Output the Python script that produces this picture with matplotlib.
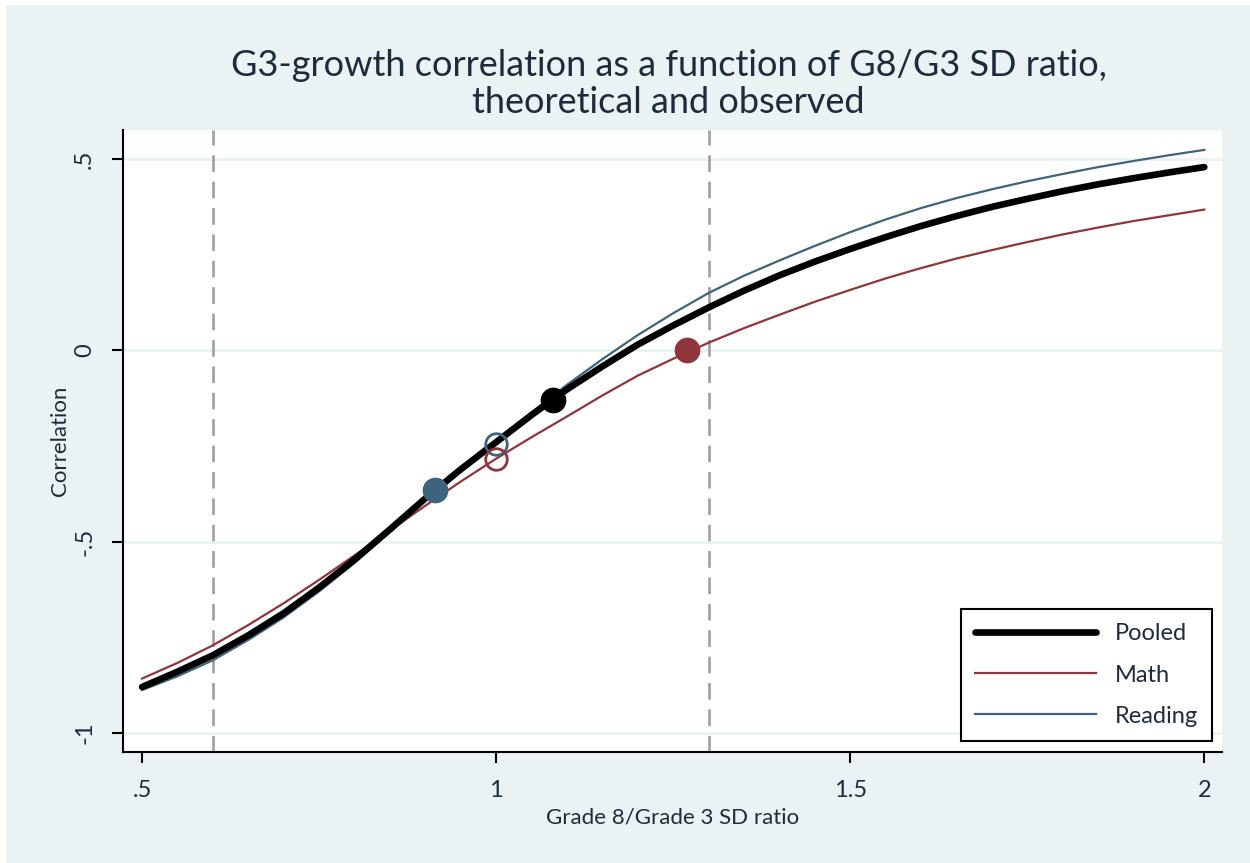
import matplotlib
matplotlib.use("Agg")
import matplotlib.pyplot as plt
from matplotlib.patches import Rectangle

# ratio de SD (grado 8 / grado 3) y correlaciones
ratio = [0.50, 0.55, 0.60, 0.65, 0.70, 0.75, 0.80, 0.85, 0.90, 0.95,
         1.00, 1.05, 1.10, 1.15, 1.20, 1.25, 1.30, 1.35, 1.40, 1.45,
         1.50, 1.55, 1.60, 1.65, 1.70, 1.75, 1.80, 1.85, 1.90, 1.95, 2.00]
pooled = [-0.880, -0.840, -0.797, -0.745, -0.687, -0.620, -0.547, -0.468, -0.387, -0.311,
          -0.240, -0.169, -0.102, -0.042, 0.015, 0.065, 0.112, 0.156, 0.196, 0.232,
          0.265, 0.296, 0.325, 0.351, 0.375, 0.396, 0.416, 0.434, 0.450, 0.465, 0.479]
math_c = [-0.858, -0.817, -0.771, -0.718, -0.661, -0.600, -0.536, -0.471, -0.406, -0.343,
          -0.283, -0.227, -0.173, -0.118, -0.066, -0.022, 0.020, 0.058, 0.093, 0.127,
          0.158, 0.188, 0.215, 0.240, 0.262, 0.283, 0.303, 0.321, 0.338, 0.353, 0.368]
reading = [-0.888, -0.852, -0.810, -0.757, -0.698, -0.630, -0.556, -0.475, -0.392, -0.313,
           -0.238, -0.162, -0.090, -0.023, 0.040, 0.097, 0.150, 0.195, 0.235, 0.273,
           0.309, 0.342, 0.372, 0.398, 0.421, 0.442, 0.461, 0.479, 0.495, 0.510, 0.524]

# puntos observados (rellenos) y teoricos con ratio 1 (huecos)
obs_x = {"Pooled": 1.08, "Math": 1.27, "Reading": 0.913}
obs_y = {"Pooled": -0.131, "Math": 0.0, "Reading": -0.366}
open_x = {"Math": 1.0, "Reading": 1.0}
open_y = {"Math": -0.283, "Reading": -0.244}

vlines = [0.6, 1.3]
xticks = [0.5, 1, 1.5, 2]
xticklabels = [".5", "1", "1.5", "2"]
yticks = [-1, -0.5, 0, 0.5]
yticklabels = ["-1", "-.5", "0", ".5"]

RED = "#90353b"
BLUE = "#3e647d"
BG = "#eaf2f3"
TXT = "#1e2b3c"

plt.rcParams['font.family'] = ['Lato', 'DejaVu Sans']

fig = plt.figure(figsize=(12.5, 8.63), dpi=100, facecolor="white")
fig.patches.append(Rectangle((6 / 1250, 0), 1, 1 - 5 / 863, transform=fig.transFigure,
                             facecolor=BG, edgecolor="none", zorder=-10))

ax = fig.add_axes([123 / 1250, 111 / 863, 1099 / 1250, 622 / 863])
ax.set_facecolor("white")

for y in yticks:
    ax.axhline(y, color=BG, lw=2, zorder=1)
for v in vlines:
    ax.axvline(v, color="#a3a3a3", lw=2, ls=(0, (6, 3.5)), zorder=2)

ax.plot(ratio, math_c, color=RED, lw=1.6, label="Math", zorder=3)
ax.plot(ratio, reading, color=BLUE, lw=1.6, label="Reading", zorder=3)
ax.plot(ratio, pooled, color="black", lw=4.8, label="Pooled", zorder=4,
        solid_capstyle="round")

ax.plot(open_x["Reading"], open_y["Reading"], "o", ms=15.5, mfc="none", mec=BLUE, mew=2, zorder=5)
ax.plot(open_x["Math"], open_y["Math"], "o", ms=15.5, mfc="none", mec=RED, mew=2, zorder=5)
ax.plot(obs_x["Reading"], obs_y["Reading"], "o", ms=17.5, color=BLUE, zorder=6)
ax.plot(obs_x["Pooled"], obs_y["Pooled"], "o", ms=17.5, color="black", zorder=6)
ax.plot(obs_x["Math"], obs_y["Math"], "o", ms=17.5, color=RED, zorder=6)

ax.set_xlim(0.473, 2.025)
ax.set_ylim(-1.05, 0.576)
ax.set_xticks(xticks)
ax.set_xticklabels(xticklabels, fontsize=17, color=TXT)
ax.set_yticks(yticks)
ax.set_yticklabels(yticklabels, fontsize=17, color=TXT, rotation=90, va="center")
ax.tick_params(length=8, width=1.5, direction="out", pad=12)

for s in ["top", "right"]:
    ax.spines[s].set_visible(False)
for s in ["left", "bottom"]:
    ax.spines[s].set_linewidth(1.5)

ax.set_xlabel("Grade 8/Grade 3 SD ratio", fontsize=16, color=TXT, labelpad=5)
ax.set_ylabel("Correlation", fontsize=16, color=TXT, labelpad=3)

fig.suptitle("G3-growth correlation as a function of G8/G3 SD ratio,\ntheoretical and observed",
             fontsize=26, color=TXT, y=0.943, x=0.535, linespacing=1.15)

handles, labels = ax.get_legend_handles_labels()
order = [2, 0, 1]
leg = ax.legend([handles[i] for i in order], [labels[i] for i in order],
                loc="lower right", bbox_to_anchor=(0.991, 0.018),
                prop={"size": 17}, labelcolor=TXT,
                fancybox=False, framealpha=1, edgecolor="black", handlelength=5.1,
                borderpad=0.6, labelspacing=0.85, handletextpad=0.8, borderaxespad=0)
leg.get_frame().set_linewidth(1.5)

fig.savefig("out.png", dpi=100, facecolor=fig.get_facecolor())
